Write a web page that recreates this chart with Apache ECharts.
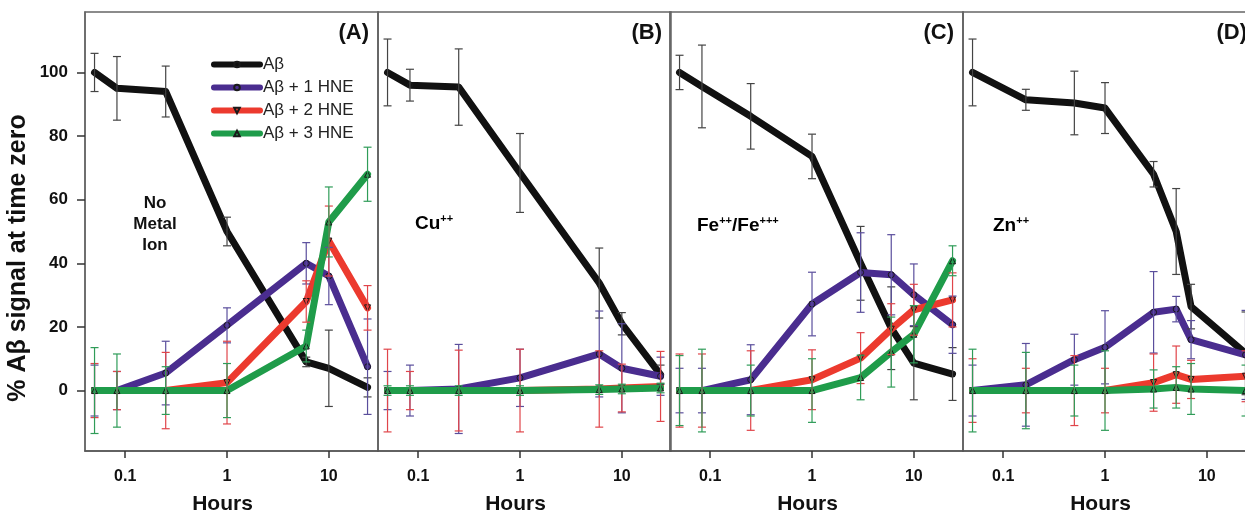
<!DOCTYPE html>
<html>
<head>
<meta charset="utf-8">
<script src="https://cdn.jsdelivr.net/npm/echarts@6/dist/echarts.min.js"></script>
<style>html,body{margin:0;padding:0;background:#fff}#c{width:1245px;height:516px}</style>
</head>
<body>
<div id="c"></div>
<script>
// ---------- data (hours on x, % of time-zero signal on y) ----------
const seriesNames = ['A\u03b2', 'A\u03b2 + 1 HNE', 'A\u03b2 + 2 HNE', 'A\u03b2 + 3 HNE'];
const xTickValues = [0.1, 1, 10];
const yTickValues = [0, 20, 40, 60, 80, 100];
const panelLetters = ['(A)', '(B)', '(C)', '(D)'];

// Panel A: no metal ion
const xA = [0.05, 0.083, 0.25, 1, 6, 10, 24];
const A_ab = [100, 95, 94, 50, 9, 7, 1];
const A_abErr = [6, 10, 8, 4.5, 1.5, 12, 3];
const A_h1 = [0, 0, 5.5, 20.5, 40, 36, 7.5];
const A_h1Err = [8, 6, 10, 5.5, 6.5, 9, 15];
const A_h2 = [0, 0, 0, 2.5, 28, 47, 26];
const A_h2Err = [8.5, 6, 12, 13, 6.5, 11, 7];
const A_h3 = [0, 0, 0, 0, 14, 53, 68];
const A_h3Err = [13.5, 11.5, 7.5, 8.5, 5, 11, 8.5];

// Panel B: Cu++
const xB = [0.05, 0.083, 0.25, 1, 6, 10, 24];
const B_ab = [100, 96, 95.4, 68.4, 33.8, 21, 5];
const B_abErr = [10.5, 5, 12, 12.4, 11, 3.5, 3];
const B_h1 = [0, 0, 0.5, 4, 11.5, 7, 4.5];
const B_h1Err = [6, 8, 14, 9, 13.5, 14, 6];
const B_h2 = [0, 0, 0, 0, 0.5, 0.8, 1.3];
const B_h2Err = [13, 6, 12.7, 13, 12, 7.5, 11];
const B_h3 = [0, 0, 0, 0, 0.3, 0.5, 0.8];
const B_h3Err = [1.5, 1.5, 1.5, 1.5, 1.5, 1.5, 1.5];

// Panel C: Fe++/Fe+++
const xC = [0.05, 0.083, 0.25, 1, 3, 6, 10, 24];
const C_ab = [100, 95.6, 86.2, 73.6, 40, 19.6, 8.6, 5.2];
const C_abErr = [5.4, 13, 10.3, 7, 11.6, 13, 11.5, 8.3];
const C_h1 = [0, 0, 3.4, 27.2, 37.1, 36.4, 30.1, 20.7];
const C_h1Err = [7, 7, 11, 10, 12.5, 12.6, 9.7, 9];
const C_h2 = [0, 0, 0, 3.4, 10.2, 19.3, 25.4, 28.5];
const C_h2Err = [11.5, 11.5, 12.5, 9.4, 8, 8, 8, 8.5];
const C_h3 = [0, 0, 0, 0, 4.1, 12.1, 17.7, 40.8];
const C_h3Err = [11, 13, 8, 10, 7, 11, 9, 4.7];

// Panel D: Zn++
const xD = [0.05, 0.167, 0.5, 1, 3, 5, 7, 24];
const D_ab = [100, 91.4, 90.4, 88.8, 68, 50, 26.4, 11.7];
const D_abErr = [10.5, 3.3, 10, 8, 4, 13.5, 7, 13];
const D_h1 = [0, 1.8, 9.7, 13.6, 24.6, 25.6, 16, 11.2];
const D_h1Err = [8, 13, 8, 11.5, 12.8, 4, 6, 14];
const D_h2 = [0, 0, 0, 0, 2.5, 5, 3.5, 4.5];
const D_h2Err = [10, 7, 11, 7, 9, 9, 6, 8];
const D_h3 = [0, 0, 0, 0, 0.5, 1, 0.5, 0];
const D_h3Err = [13, 12, 8, 12.5, 6, 6.5, 8, 8];

// ---------- styling ----------
const FONT = '"Liberation Sans", Arial, Helvetica, sans-serif';
const lineColors = ['#111111', '#4a2d8f', '#ec3a2e', '#1f9c4a'];
const errColors = ['#444444', '#5a4e9c', '#e0454a', '#2f9c58'];
const symbols = ['circle', 'circle', 'triangle', 'triangle'];
const symbolRot = [0, 0, 180, 0];

const panels = [
  { x: xA, v: [A_ab, A_h1, A_h2, A_h3], e: [A_abErr, A_h1Err, A_h2Err, A_h3Err] },
  { x: xB, v: [B_ab, B_h1, B_h2, B_h3], e: [B_abErr, B_h1Err, B_h2Err, B_h3Err] },
  { x: xC, v: [C_ab, C_h1, C_h2, C_h3], e: [C_abErr, C_h1Err, C_h2Err, C_h3Err] },
  { x: xD, v: [D_ab, D_h1, D_h2, D_h3], e: [D_abErr, D_h1Err, D_h2Err, D_h3Err] }
];

const gridLefts = [85, 378, 670, 963];
const GRID_W = 293, GRID_TOP = 12, GRID_H = 439;

const grids = gridLefts.map(l => ({
  left: l, top: GRID_TOP, width: GRID_W, height: GRID_H,
  outerBoundsMode: 'none', containLabel: false,
  show: true, borderColor: '#666', borderWidth: 1.5, backgroundColor: 'transparent'
}));

const xAxes = gridLefts.map((l, i) => ({
  type: 'log', logBase: 10, gridIndex: i, min: 0.0403, max: 30.4,
  name: 'Hours', nameLocation: 'middle', nameGap: 43,
  nameTextStyle: { fontFamily: FONT, fontSize: 21, fontWeight: 'bold', color: '#111', padding: [0, 18, 0, 0] },
  axisLine: { show: true, onZero: false, lineStyle: { color: '#555', width: 1.5 } },
  axisTick: { show: true, length: 7, inside: false, customValues: xTickValues, lineStyle: { color: '#333', width: 1.5 } },
  axisLabel: { show: true, margin: 18, customValues: xTickValues, fontFamily: FONT, fontSize: 16, fontWeight: 'bold', color: '#111',
    formatter: v => String(+(+v).toPrecision(3)) },
  splitLine: { show: false }, minorTick: { show: false }
}));

const yAxes = gridLefts.map((l, i) => ({
  type: 'value', gridIndex: i, min: -19, max: 119,
  axisLine: { show: true, onZero: false, lineStyle: { color: '#666', width: 1.5 } },
  axisTick: { show: i === 0, length: 8, inside: false, customValues: yTickValues, lineStyle: { color: '#333', width: 1.5 } },
  axisLabel: { show: i === 0, margin: 17, customValues: yTickValues, fontFamily: FONT, fontSize: 17, fontWeight: 'bold', color: '#111' },
  splitLine: { show: false }
}));

function errRender(params, api) {
  const x = api.value(0), lo = api.value(1), hi = api.value(2);
  const pLo = api.coord([x, lo]), pHi = api.coord([x, hi]);
  const w = 4;
  const style = { stroke: api.visual('color'), lineWidth: 1.2, fill: null };
  return {
    type: 'group', children: [
      { type: 'line', shape: { x1: pLo[0], y1: pLo[1], x2: pHi[0], y2: pHi[1] }, style },
      { type: 'line', shape: { x1: pLo[0] - w, y1: pLo[1], x2: pLo[0] + w, y2: pLo[1] }, style },
      { type: 'line', shape: { x1: pHi[0] - w, y1: pHi[1], x2: pHi[0] + w, y2: pHi[1] }, style }
    ]
  };
}

const lineSeries = [], errSeries = [];
panels.forEach((p, pi) => {
  p.v.forEach((vals, si) => {
    lineSeries.push({
      type: 'line', name: seriesNames[si], xAxisIndex: pi, yAxisIndex: pi,
      data: p.x.map((x, k) => [x, vals[k]]),
      lineStyle: { color: lineColors[si], width: 7, cap: 'round', join: 'round' },
      itemStyle: { color: si === 0 ? '#111' : lineColors[si], borderColor: '#1a1a1a', borderWidth: 1 },
      symbol: symbols[si], symbolRotate: symbolRot[si], symbolSize: si === 0 ? 5 : 6,
      showSymbol: true, z: 2 + si * 0.1, emphasis: { disabled: true }, silent: true
    });
    errSeries.push({
      type: 'custom', name: seriesNames[si], xAxisIndex: pi, yAxisIndex: pi,
      renderItem: errRender, encode: { x: 0, y: [1, 2] },
      itemStyle: { color: errColors[si] },
      data: p.x.map((x, k) => [x, vals[k] - p.e[si][k], vals[k] + p.e[si][k]]),
      z: 3, silent: true
    });
  });
});

const textBase = { fontFamily: FONT, fontWeight: 'bold', fill: '#111' };
const supRich = {
  b: { fontFamily: FONT, fontWeight: 'bold', fontSize: 19, color: '#111', lineHeight: 22 },
  s: { fontFamily: FONT, fontWeight: 'bold', fontSize: 11, color: '#111', lineHeight: 22, verticalAlign: 'top', padding: [0, 0, 6, 0] }
};

const graphics = [
  { type: 'text', x: 18, y: 258, rotation: Math.PI / 2,
    style: Object.assign({}, textBase, { text: '% A\u03b2 signal at time zero', fontSize: 25, textAlign: 'center', textVerticalAlign: 'middle' }) },
  { type: 'text', x: 155, y: 224,
    style: Object.assign({}, textBase, { text: 'No\nMetal\nIon', fontSize: 17, lineHeight: 21, textAlign: 'center', textVerticalAlign: 'middle' }) },
  { type: 'text', x: 415, y: 224,
    style: { text: '{b|Cu}{s|++}', rich: supRich, textAlign: 'left', textVerticalAlign: 'middle' } },
  { type: 'text', x: 697, y: 226,
    style: { text: '{b|Fe}{s|++}{b|/Fe}{s|+++}', rich: supRich, textAlign: 'left', textVerticalAlign: 'middle' } },
  { type: 'text', x: 993, y: 226,
    style: { text: '{b|Zn}{s|++}', rich: supRich, textAlign: 'left', textVerticalAlign: 'middle' } }
];
panelLetters.forEach((t, i) => {
  graphics.push({ type: 'text', x: gridLefts[i] + GRID_W - 9, y: 33,
    style: Object.assign({}, textBase, { text: t, fontSize: 22, textAlign: 'right', textVerticalAlign: 'middle' }) });
});

const option = {
  animation: false,
  backgroundColor: '#fff',
  grid: grids,
  xAxis: xAxes,
  yAxis: yAxes,
  legend: {
    data: seriesNames, orient: 'vertical', left: 211, top: 56,
    itemWidth: 46, itemHeight: 7, itemGap: 6, padding: 0,
    textStyle: { fontFamily: FONT, fontSize: 17, color: '#222', padding: [0, 0, 0, -2] },
    lineStyle: { width: 6, cap: 'round' },
    selectedMode: false
  },
  series: lineSeries.concat(errSeries),
  graphic: graphics
};

const chart = echarts.init(document.getElementById('c'), null, { renderer: 'canvas' });
chart.setOption(option);
</script>
</body>
</html>
